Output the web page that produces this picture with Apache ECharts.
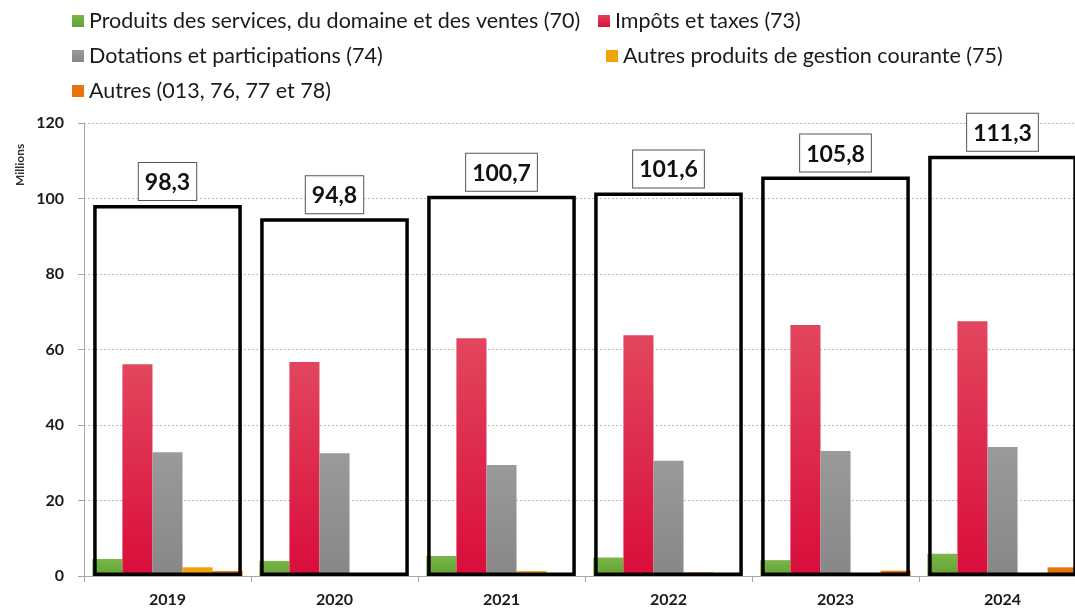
<!DOCTYPE html>
<html>
<head>
<meta charset="utf-8">
<script src="https://cdn.jsdelivr.net/npm/echarts@6/dist/echarts.min.js"></script>
<style>
  html, body { margin: 0; padding: 0; background: #fff; overflow: hidden; }
  /* plot runs past the right edge in the original, so the chart is a bit wider than the window */
  #chart { width: 1086px; height: 610px; }
</style>
</head>
<body>
<div id="chart"></div>
<script>
const years = ['2019', '2020', '2021', '2022', '2023', '2024'];

// millions d'euros
const produitsServices = [4.5, 4.0, 5.3, 4.9, 4.2, 5.9];
const impotsTaxes = [56.1, 56.7, 63.0, 63.8, 66.5, 67.5];
const dotations = [32.8, 32.5, 29.4, 30.5, 33.1, 34.2];
const autresGestion = [2.3, 0, 1.3, 1.0, 0, 0];
const autres = [1.3, 0, 0, 0, 1.4, 2.3];
const totals = [98.3, 94.8, 100.7, 101.6, 105.8, 111.3];

const names = [
  'Produits des services, du domaine et des ventes (70)',
  'Impôts et taxes (73)',
  'Dotations et participations (74)',
  'Autres produits de gestion courante (75)',
  'Autres (013, 76, 77 et 78)',
];

const FONT = 'Lato';

function grad(top, bottom) {
  return new echarts.graphic.LinearGradient(0, 0, 0, 1, [
    { offset: 0, color: top },
    { offset: 1, color: bottom },
  ]);
}

const colors = ['#6aaa3a', '#d90f3c', '#8c8c8c', '#f0a30a', '#e8730c'];
const fills = [
  grad('#7ab648', '#62a232'),
  grad('#e2465e', '#d90d3b'),
  grad('#9a9a9a', '#878787'),
  '#f0a30a',
  '#e8730c',
];

const legendText = { fontFamily: FONT, fontSize: 21.5, color: '#1a1a1a' };
function legend(name, left, top) {
  return {
    data: [name],
    left: left,
    top: top,
    itemWidth: 12,
    itemHeight: 12,
    icon: 'rect',
    itemGap: 0,
    textStyle: legendText,
  };
}

const chart = echarts.init(document.getElementById('chart'), null, { renderer: 'canvas' });

const series = [produitsServices, impotsTaxes, dotations, autresGestion, autres].map((d, i) => ({
  name: names[i],
  type: 'bar',
  data: d,
  barGap: '0%',
  barCategoryGap: '10%',
  itemStyle: { color: fills[i] },
  z: 2,
}));

// box around each year with the total on top
series.push({
  name: 'Total',
  type: 'bar',
  xAxisIndex: 1,
  data: totals,
  barWidth: '89%',
  itemStyle: { color: 'rgba(0,0,0,0)', borderColor: '#000', borderWidth: 3.5 },
  label: {
    show: true,
    position: 'top',
    distance: 5,
    formatter: (p) => p.value.toFixed(1).replace('.', ','),
    fontFamily: FONT,
    fontSize: 23,
    fontWeight: 'bold',
    color: '#111',
    backgroundColor: '#fff',
    borderColor: '#555',
    borderWidth: 1,
    padding: [8, 6, 6, 6],
  },
  z: 3,
  silent: true,
});

chart.setOption({
  animation: false,
  color: colors,
  legend: [
    legend(names[0], 67, 5),
    legend(names[1], 593, 5),
    legend(names[2], 67, 40),
    legend(names[3], 601, 40),
    legend(names[4], 67, 75),
  ],
  grid: { left: 84, right: 0, top: 123, bottom: 34 },
  xAxis: [
    {
      type: 'category',
      data: years,
      axisLine: { lineStyle: { color: '#a6a6a6', width: 1 } },
      axisTick: { show: true, length: 6, lineStyle: { color: '#a6a6a6' } },
      axisLabel: {
        fontFamily: FONT, fontSize: 16, fontWeight: 'bold', color: '#1a1a1a', margin: 16,
      },
    },
    { type: 'category', data: years, show: false },
  ],
  yAxis: {
    type: 'value',
    min: 0,
    max: 120,
    interval: 20,
    axisLine: { show: true, lineStyle: { color: '#a6a6a6', width: 1 } },
    axisTick: { show: true, length: 6, lineStyle: { color: '#a6a6a6' } },
    axisLabel: {
      fontFamily: FONT, fontSize: 16, fontWeight: 'bold', color: '#1a1a1a', margin: 20,
    },
    splitLine: { lineStyle: { color: '#bdbdbd', type: [2, 2], width: 1 } },
  },
  graphic: [{
    type: 'text',
    x: 14,
    y: 186,
    rotation: Math.PI / 2,
    style: {
      text: 'Millions',
      fontFamily: FONT,
      fontSize: 12,
      fontWeight: 'bold',
      fill: '#333',
    },
  }],
  series: series,
});
</script>
</body>
</html>
